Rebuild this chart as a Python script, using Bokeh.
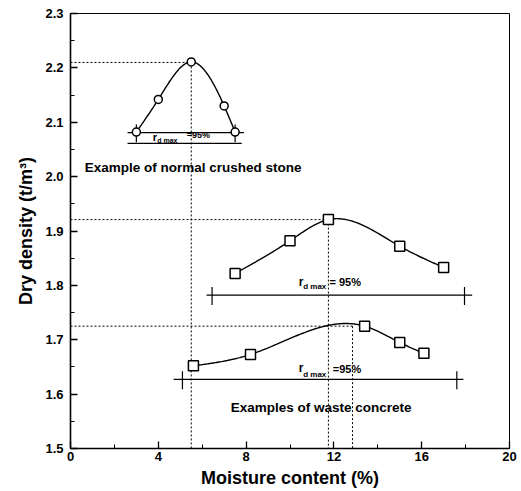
import numpy as np
from bokeh.plotting import figure
from bokeh.models import Range1d, FixedTicker, PrintfTickFormatter
from bokeh.core.properties import value
from bokeh.embed import file_html
from bokeh.resources import INLINE

# ---------------- data ----------------
stone_x = [3.0, 4.0, 5.5, 7.0, 7.5]
stone_y = [2.082, 2.142, 2.211, 2.130, 2.082]

mid_x = [7.5, 10.0, 11.75, 15.0, 17.0]
mid_y = [1.822, 1.882, 1.921, 1.872, 1.833]

low_x = [5.6, 8.2, 13.4, 15.0, 16.1]
low_y = [1.652, 1.673, 1.725, 1.695, 1.675]

# optimum (peak) points: moisture %, max dry density
peak_x = [5.5, 11.75, 12.85]
peak_y = [2.21, 1.921, 1.725]

# 95 % of max dry density lines: level, x-start, x-end, tick positions
rd_level = [2.081, 2.061, 1.782, 1.627]
rd_x0 = [2.6, 2.6, 6.2, 4.7]
rd_x1 = [7.9, 7.8, 18.3, 17.9]
rd_tick_x = [[3.0, 7.5], [], [6.45, 17.95], [5.1, 17.6]]

x_ticks = [0, 4, 8, 12, 16, 20]
x_minor = [2, 6, 10, 14, 18]
y_ticks = [1.5, 1.6, 1.7, 1.8, 1.9, 2.0, 2.1, 2.2, 2.3]
y_minor = [1.55, 1.65, 1.75, 1.85, 1.95, 2.05, 2.15, 2.25]


def natural_spline(xs, ys, n=200):
    xs = np.asarray(xs, float)
    ys = np.asarray(ys, float)
    m = len(xs)
    h = np.diff(xs)
    A = np.zeros((m, m))
    b = np.zeros(m)
    A[0, 0] = 1.0
    A[-1, -1] = 1.0
    for i in range(1, m - 1):
        A[i, i - 1] = h[i - 1]
        A[i, i] = 2 * (h[i - 1] + h[i])
        A[i, i + 1] = h[i]
        b[i] = 6 * ((ys[i + 1] - ys[i]) / h[i] - (ys[i] - ys[i - 1]) / h[i - 1])
    M = np.linalg.solve(A, b)
    xx = np.linspace(xs[0], xs[-1], n)
    yy = np.empty_like(xx)
    for k, x in enumerate(xx):
        i = min(np.searchsorted(xs, x, side="right") - 1, m - 2)
        i = max(i, 0)
        t1 = xs[i + 1] - x
        t0 = x - xs[i]
        hi = h[i]
        yy[k] = (M[i] * t1 ** 3 / (6 * hi) + M[i + 1] * t0 ** 3 / (6 * hi)
                 + (ys[i] / hi - M[i] * hi / 6) * t1
                 + (ys[i + 1] / hi - M[i + 1] * hi / 6) * t0)
    return xx, yy


FONT = "Liberation Sans"

p = figure(width=521, height=491, output_backend="svg", toolbar_location=None,
           x_range=Range1d(0, 20), y_range=Range1d(1.5, 2.3),
           min_border_left=70, min_border_right=12, min_border_top=13,
           min_border_bottom=43)
p.background_fill_color = "white"
p.border_fill_color = "white"
p.outline_line_color = "black"
p.outline_line_width = 1
p.grid.visible = False

# axes
p.xaxis.ticker = FixedTicker(ticks=x_ticks, minor_ticks=x_minor)
p.yaxis.ticker = FixedTicker(ticks=y_ticks, minor_ticks=y_minor)
p.yaxis.formatter = PrintfTickFormatter(format="%.1f")
for ax in (p.xaxis[0], p.yaxis[0]):
    ax.major_tick_in = 7
    ax.major_tick_out = 0
    ax.minor_tick_in = 4
    ax.minor_tick_out = 0
    ax.axis_line_width = 1.6
    ax.major_tick_line_width = 1.3
    ax.minor_tick_line_width = 1.0
    ax.major_label_text_font = FONT
    ax.major_label_text_font_style = "bold"
    ax.major_label_text_font_size = "13px"
    ax.major_label_text_color = "black"
    ax.axis_label_text_font = FONT
    ax.axis_label_text_font_style = "bold"
    ax.axis_label_text_font_size = "18px"
    ax.axis_label_text_color = "black"
p.xaxis.axis_label = "Moisture content (%)"
p.yaxis.axis_label = "Dry density (t/m\u00b3)"
p.xaxis.major_label_standoff = 3
p.xaxis.axis_label_standoff = 4
p.yaxis.major_label_standoff = 7
p.yaxis.axis_label_standoff = 6

# dotted guide lines to the optimum points
for px_, py_ in zip(peak_x, peak_y):
    p.line([0, px_], [py_, py_], line_color="black", line_width=1, line_dash="2 2")
    p.line([px_, px_], [py_, 1.5], line_color="black", line_width=1, line_dash="2 2")

# 95% lines and end ticks
for lvl, a, b_, tks in zip(rd_level, rd_x0, rd_x1, rd_tick_x):
    p.line([a, b_], [lvl, lvl], line_color="black", line_width=1.3)
    for tx in tks:
        p.segment(x0=[tx], y0=[lvl + 0.015], x1=[tx], y1=[lvl - 0.018],
                  line_color="black", line_width=1.2)

# compaction curves
for xs, ys in ((stone_x, stone_y), (mid_x, mid_y), (low_x, low_y)):
    cx, cy = natural_spline(xs, ys)
    p.line(cx, cy, line_color="black", line_width=1.4)

p.scatter(stone_x, stone_y, marker="circle", size=8, fill_color="white",
          line_color="black", line_width=1.5)
p.scatter(mid_x, mid_y, marker="square", size=10, fill_color="white",
          line_color="black", line_width=1.5)
p.scatter(low_x, low_y, marker="square", size=10, fill_color="white",
          line_color="black", line_width=1.5)


def txt(x, y, s, size, align="left"):
    p.text(x=[x], y=[y], text=[s], text_font=value(FONT), text_font_style="bold",
           text_font_size=size, text_baseline="middle", text_align=align,
           text_color="black")


# r_d max = 95% labels
txt(3.75, 2.072, "r", "11px")
txt(3.95, 2.067, "d max", "7px")
txt(5.3, 2.076, "=95%", "9px")

txt(10.4, 1.806, "r", "12px")
txt(10.6, 1.798, "d max", "8px")
txt(11.8, 1.806, "= 95%", "11px")

txt(10.4, 1.648, "r", "12px")
txt(10.6, 1.637, "d max", "8px")
txt(11.95, 1.647, "=95%", "11px")

txt(0.65, 2.017, "Example of normal crushed stone", "13.5px")
txt(7.3, 1.576, "Examples of waste concrete", "13.5px")

open("out.html", "w").write(file_html(p, INLINE))
